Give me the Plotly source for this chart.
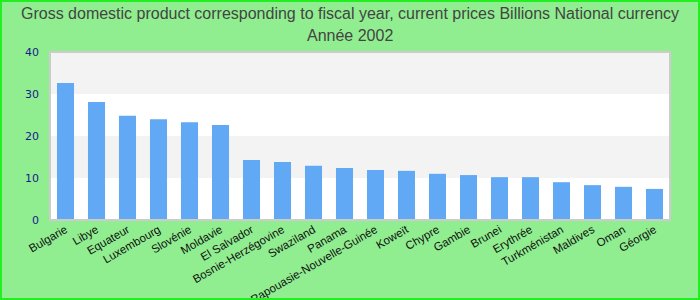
import plotly.graph_objects as go

countries = ["Bulgarie", "Libye", "Equateur", "Luxembourg", "Slovénie", "Moldavie",
             "El Salvador", "Bosnie-Herzégovine", "Swaziland", "Panama",
             "Papouasie-Nouvelle-Guinée", "Koweït", "Chypre", "Gambie", "Brunei",
             "Erythrée", "Turkménistan", "Maldives", "Oman", "Géorgie"]
values = [32.6, 28.1, 24.8, 24.0, 23.3, 22.6, 14.3, 13.8, 12.9, 12.4,
          11.9, 11.7, 11.0, 10.7, 10.2, 10.2, 9.0, 8.3, 7.9, 7.4]
y_ticks = [0, 10, 20, 30, 40]
bands = [(10, 20), (30, 40)]
title_line1 = "Gross domestic product corresponding to fiscal year, current prices Billions National currency"
title_line2 = "Année 2002"

W, H = 700, 300
ml, mr, mt, mb = 50, 30, 52, 80
pw, ph = W - ml - mr, H - mt - mb
title_font = dict(family="Liberation Sans, Arial, sans-serif", size=16, color="#444444")

fig = go.Figure(go.Bar(x=countries, y=values, marker_color="#62a9f5",
                       marker_line_width=0, hoverinfo="x+y"))

shapes = []
for y0, y1 in bands:
    shapes.append(dict(type="rect", xref="paper", yref="y", x0=0, x1=1, y0=y0, y1=y1,
                       fillcolor="#f3f3f3", line_width=0, layer="below"))
shapes.append(dict(type="rect", xref="paper", yref="paper", x0=0, x1=1, y0=0, y1=1,
                   line=dict(color="#cccccc", width=2), layer="above"))
shapes.append(dict(type="rect", xref="paper", yref="paper",
                   x0=(-ml + 1) / pw, x1=(W - ml - 1) / pw,
                   y0=(-mb + 1) / ph, y1=(H - mb - 1) / ph,
                   line=dict(color="#22ee22", width=2), layer="above"))

fig.update_layout(
    width=W, height=H,
    margin=dict(l=ml, r=mr, t=mt, b=mb, pad=0, autoexpand=False),
    paper_bgcolor="#90ee90", plot_bgcolor="#ffffff",
    title=dict(text=title_line1, x=0.5, xanchor="center", xref="container",
               y=1 - 13 / H, yanchor="middle", yref="container", font=title_font),
    annotations=[dict(text=title_line2, xref="paper", yref="paper",
                      x=(W / 2 - ml) / pw, y=(H - mb - 36) / ph,
                      xanchor="center", yanchor="middle", showarrow=False,
                      font=title_font)],
    bargap=0.45,
    showlegend=False,
    shapes=shapes,
    font=dict(family="Liberation Sans, Arial, sans-serif"),
)
fig.update_xaxes(tickangle=-30, tickfont=dict(size=11.5, color="#111111"),
                 showgrid=False, showline=False, ticks="", automargin=False)
fig.update_yaxes(range=[0, 40], tickvals=y_ticks, showgrid=False, zeroline=False,
                 tickfont=dict(size=11, color="#1a1a8c", family="DejaVu Sans, sans-serif"),
                 ticks="", ticklen=0, ticklabelstandoff=10, automargin=False)

fig.write_html("out.html")
